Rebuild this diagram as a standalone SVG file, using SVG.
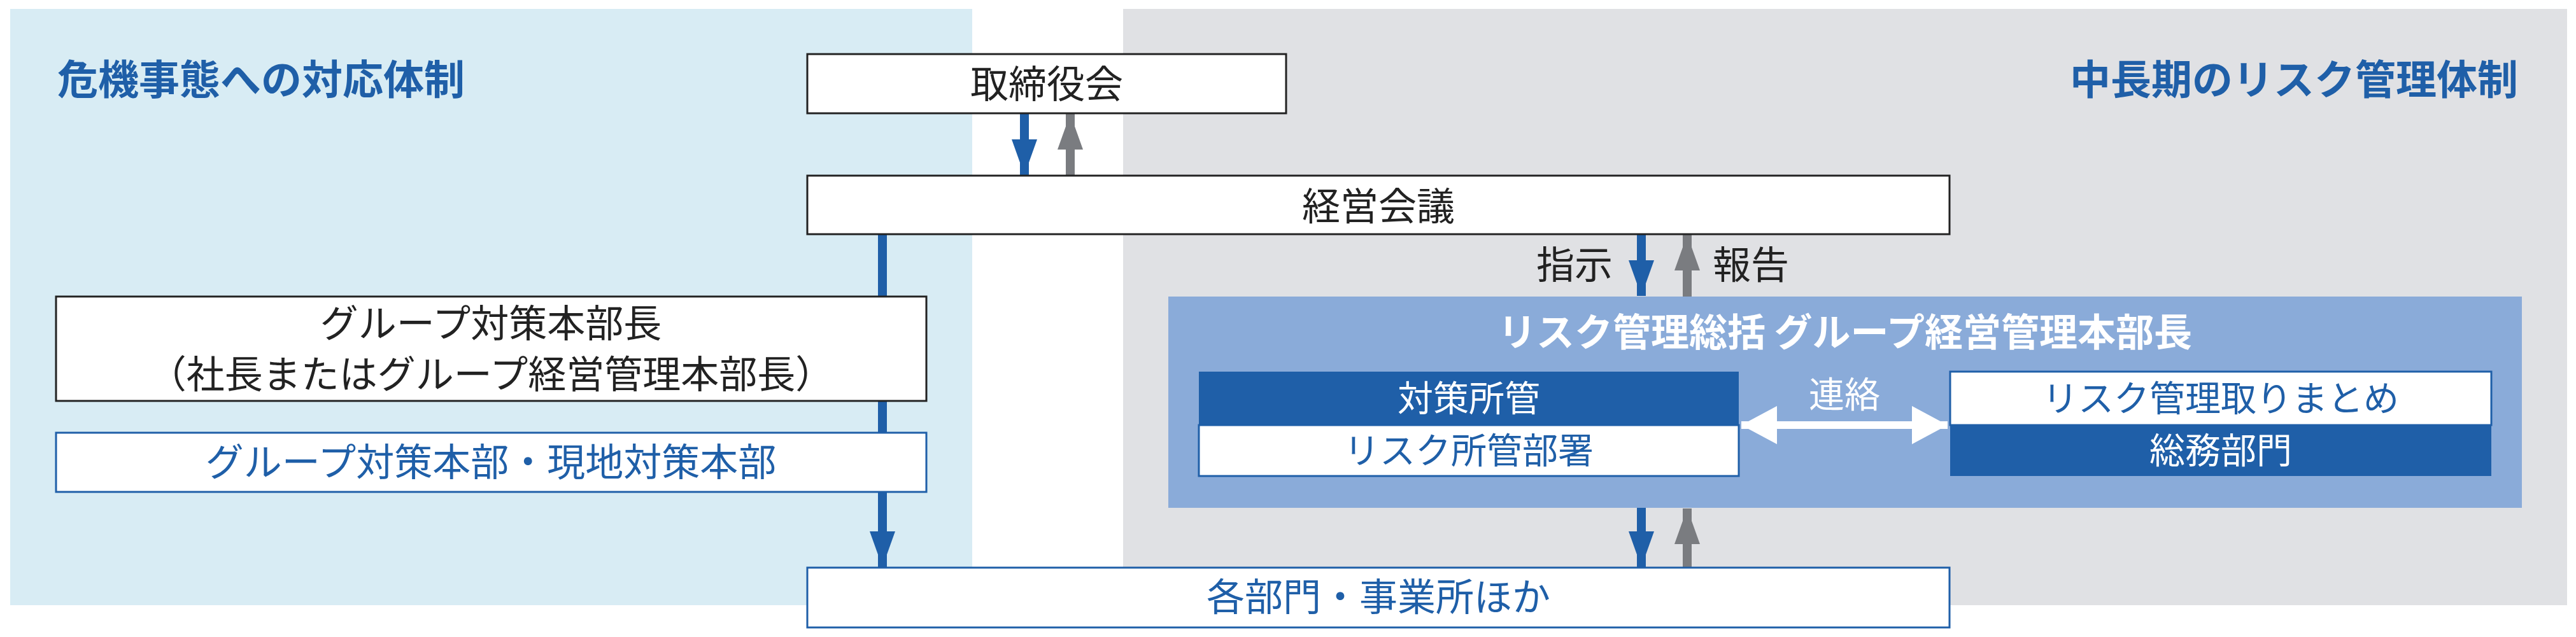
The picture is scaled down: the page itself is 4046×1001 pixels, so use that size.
<svg xmlns="http://www.w3.org/2000/svg" width="4046" height="1001" viewBox="0 0 4046 1001">
<style>
text{font-family:"Noto Sans CJK JP","Noto Sans",sans-serif;text-anchor:middle}
.t{font-size:60px;fill:#222}
.b{font-size:60px;fill:#1f5fa8}
.w{font-size:56px;fill:#fff}
.h{font-size:64px;font-weight:bold;fill:#1f5fa8}
.box{fill:#fff;stroke:#222;stroke-width:3}
.bbox{fill:#fff;stroke:#1f5fa8;stroke-width:3}
.dk{fill:#1f5fa8}
.ba{stroke:#1f5fa8;stroke-width:14}
.ga{stroke:#7a7c80;stroke-width:14}
</style>
<defs>
<marker id="mb" viewBox="0 0 40 56" refX="20" refY="56" markerWidth="40" markerHeight="56" markerUnits="userSpaceOnUse" orient="auto-start-reverse"><path d="M0 0L40 0L20 56Z" fill="#1f5fa8" transform="rotate(0)"/></marker>
<marker id="ar" viewBox="0 0 56 40" refX="56" refY="20" markerWidth="56" markerHeight="40" markerUnits="userSpaceOnUse" orient="auto"><path d="M0 0L56 20L0 40Z" fill="#1f5fa8"/></marker>
<marker id="ag" viewBox="0 0 56 40" refX="56" refY="20" markerWidth="56" markerHeight="40" markerUnits="userSpaceOnUse" orient="auto"><path d="M0 0L56 20L0 40Z" fill="#7a7c80"/></marker>
<marker id="aw" viewBox="0 0 56 60" refX="56" refY="30" markerWidth="56" markerHeight="60" markerUnits="userSpaceOnUse" orient="auto-start-reverse"><path d="M0 0L56 30L0 60Z" fill="#fff"/></marker>
</defs>
<rect width="4046" height="1001" fill="#fff"/>
<rect x="16" y="14" width="1511" height="937" fill="#d8ecf4"/>
<rect x="1764" y="14" width="2268" height="937" fill="#e0e1e4"/>
<text class="h" x="90" y="148" style="text-anchor:start">危機事態への対応体制</text>
<text class="h" x="3955" y="148" style="text-anchor:end">中長期のリスク管理体制</text>
<g id="connectors">
<line class="ba" x1="1609" y1="178" x2="1609" y2="275" marker-end="url(#ar)"/>
<line class="ga" x1="1681" y1="276" x2="1681" y2="179" marker-end="url(#ag)"/>
<line class="ba" x1="1386" y1="368" x2="1386" y2="891" marker-end="url(#ar)"/>
<line class="ba" x1="2578" y1="368" x2="2578" y2="465" marker-end="url(#ar)"/>
<line class="ga" x1="2650" y1="466" x2="2650" y2="369" marker-end="url(#ag)"/>
<line class="ba" x1="2578" y1="798" x2="2578" y2="891" marker-end="url(#ar)"/>
<line class="ga" x1="2650" y1="892" x2="2650" y2="799" marker-end="url(#ag)"/>
<text class="t" x="2533" y="438" style="text-anchor:end">指示</text>
<text class="t" x="2690" y="438" style="text-anchor:start">報告</text>
</g>
<g id="board"><rect class="box" x="1268" y="85" width="752" height="93"/><text class="t" x="1644" y="154">取締役会</text></g>
<g id="mgmt"><rect class="box" x="1268" y="276" width="1794" height="92"/><text class="t" x="2165" y="346">経営会議</text></g>
<g id="hqhead"><rect class="box" x="88" y="466" width="1367" height="164"/><text class="t" x="771" y="530">グループ対策本部長</text><text class="t" x="771" y="610">（社長またはグループ経営管理本部長）</text></g>
<g id="hq"><rect class="bbox" x="88" y="680" width="1367" height="93"/><text class="b" x="771" y="748">グループ対策本部・現地対策本部</text></g>
<g id="depts"><rect class="bbox" x="1268" y="892" width="1794" height="94"/><text class="b" x="2165" y="960">各部門・事業所ほか</text></g>
<g id="risk">
<rect x="1835" y="466" width="2126" height="332" fill="#8aabd9"/>
<text x="2898" y="544" style="font-size:60px;font-weight:bold;fill:#fff">リスク管理総括 グループ経営管理本部長</text>
</g>
<g id="left-inner">
<rect class="dk" x="1883" y="584" width="848" height="84"/><text class="w" x="2307" y="646">対策所管</text>
<rect class="bbox" x="1883" y="668" width="848" height="80"/><text class="b" x="2307" y="728" style="font-size:56px">リスク所管部署</text>
</g>
<g id="right-inner">
<rect class="bbox" x="3063" y="584" width="850" height="84"/><text class="b" x="3488" y="646" style="font-size:56px">リスク管理取りまとめ</text>
<rect class="dk" x="3063" y="668" width="850" height="80"/><text class="w" x="3488" y="728">総務部門</text>
</g>
<g id="liaison">
<line x1="2735" y1="668" x2="3059" y2="668" stroke="#fff" stroke-width="12" marker-start="url(#aw)" marker-end="url(#aw)"/>
<text class="w" x="2897" y="640">連絡</text>
</g>
</svg>
